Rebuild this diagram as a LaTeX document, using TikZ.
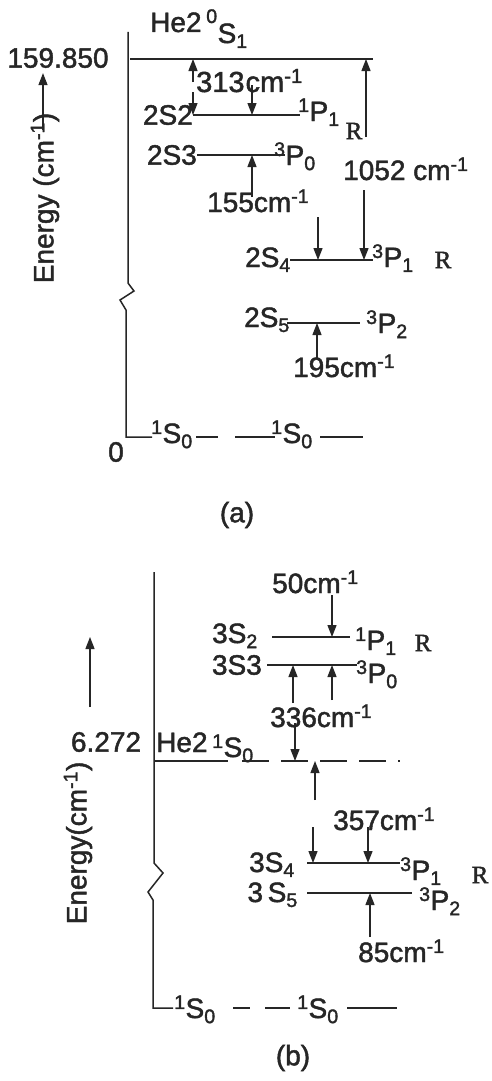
\documentclass[tikz,border=0pt]{standalone}
\usepackage{fontspec}
\setmainfont{Liberation Sans}[FakeBold=1.6]
\newfontfamily\serifR{Liberation Serif}[FakeBold=1.6]
\usetikzlibrary{arrows.meta}
\definecolor{cink}{HTML}{262626}
\newcommand{\trm}[3]{\textsuperscript{#1}#2\textsubscript{#3}}
\newcommand{\icm}{cm\textsuperscript{-1}}

\begin{document}
\begin{tikzpicture}[x=1pt,y=-1pt,every node/.style={font=\fontsize{28}{30}\selectfont,text=cink,inner sep=0pt},
  lvl/.style={draw=cink,line width=1.5pt},
  arr/.style={draw=cink,line width=1.3pt,-{Triangle[length=12pt,width=9pt]}},
  rlab/.style={font=\serifR\fontsize{25}{27}\selectfont}]
  \useasboundingbox[fill=white] (0,0) rectangle (491,1081);
  \foreach \n/\y/\xa/\xb in {aT/59/130/373,a2/115/193/300,a3/155/197/285,a4/260/290/373,a5/323/287/360,b2/637/272/350,b3/665/267/357,b4/863/307/400,b5/893/307/412}{\coordinate (\n L) at (\xa,\y); \coordinate (\n R) at (\xb,\y); \draw[lvl] (\n L) -- (\n R);}
  \coordinate (bHL) at (155,761); \coordinate (bHR) at (400,761);
  \draw[lvl] (bHL) -- ++(73,0);
  \draw[lvl,dash pattern=on 27pt off 12pt] (242,761) -- (bHR);
  \draw[lvl] (128,32) -- (128,283) -- (134,291) -- (120,300) -- (126,310) -- (126,437) -- (152,437);
  \draw[lvl] (196,437) -- (218,437) (235,437) -- (275,437) (320,437) -- (363,437);
  \draw[lvl] (154,572) -- (154,863) -- (163,873) -- (148,892) -- (153,900) -- (153,1008) -- (173,1008);
  \draw[lvl] (233,1008) -- (250,1008) (265,1008) -- (290,1008) (347,1008) -- (397,1008);
  \foreach \n/\x/\y/\t in {p1/193/82/aT,p2/193/92/a2,p3/252/85/a2,p4/366/137/aT,p5/364/190/a4,p6/252/197/a3,p7/318/217/a4,p8/317/358/a5,q1/332/595/b2,q2/293/703/b3,q3/332/700/b3,q4/295/723/bH,q5/315/800/bH,q6/313/827/b4,q7/368/827/b4,q8/370/937/b5}{\coordinate (\n S) at (\x,\y); \draw[arr] (\n S) -- (\n S |- \t L);}
  \node (val159) at (58,58) {159.850};
  \coordinate (e1S) at (43,130); \draw[arr] (e1S) -- (e1S |- val159.south) [shorten >=5pt];
  \node[rotate=90] (enA) at (45,198) {Energy (\icm)};
  \node[anchor=base west] (heA) at (150,32) {He2\,\textsuperscript{0}\raisebox{-11pt}{S\textsubscript{1}}};
  \node[anchor=base west,font=\fontsize{29}{31}\selectfont] (w313) at (196,92) {313\kern1pt\icm};
  \node[anchor=east] (s2A) at (a2L) {2S2};
  \node[anchor=base west] (p1A) at (298,121) {\trm{1}{P}{1}};
  \node[rlab] (rA1) at (354,131) {R};
  \node[anchor=east] (s3A) at (a3L) {2S3};
  \node[anchor=base west] (p0A) at (274,165) {\trm{3}{P}{0}};
  \node[anchor=base west] (w155) at (207,212) {155\icm};
  \node[anchor=base west] (w1052) at (343,180) {1052 \icm};
  \node[anchor=base east] (s4A) at (291,267) {2S\textsubscript{4}};
  \node[anchor=base west] (p3A) at (372,267) {\trm{3}{P}{1}};
  \node[rlab] (rA2) at (443,260) {R};
  \node[anchor=base east] (s5A) at (290,327) {2S\textsubscript{5}};
  \node[anchor=base west] (p2A) at (366,333) {\trm{3}{P}{2}};
  \node[anchor=base west] (w195) at (293,377) {195\icm};
  \node (zeroA) at (116,452) {0};
  \node[anchor=base west] (g1A) at (151,443) {\trm{1}{S}{0}};
  \node[anchor=base west] (g2A) at (271,443) {\trm{1}{S}{0}};
  \node (capA) at (237,515) {(a)};
  \node (val627) at (106,742) {6.272};
  \coordinate (e2S) at (90,707); \coordinate (e2T) at (90,637); \draw[arr] (e2S) -- (e2T);
  \node[rotate=90] (enB) at (78,843) {Energy(\icm)};
  \node[anchor=base west] (heB) at (156,752) {He2\,\raisebox{-5pt}{\trm{1}{S}{0}}};
  \node[anchor=base west] (w50) at (272,593) {50\icm};
  \node[anchor=base east] (s2B) at (258,643) {3S\textsubscript{2}};
  \node[anchor=base west] (p1B) at (355,650) {\trm{1}{P}{1}};
  \node[rlab] (rB1) at (423,643) {R};
  \node[anchor=east] (s3B) at (262,665) {3S3};
  \node[anchor=base west] (p0B) at (356,683) {\trm{3}{P}{0}};
  \node[anchor=base west] (w336) at (270,727) {336\icm};
  \node[anchor=base west] (w357) at (333,830) {357\icm};
  \node[anchor=base east] (s4B) at (295,872) {3S\textsubscript{4}};
  \node[anchor=base west] (p3B) at (400,880) {\trm{3}{P}{1}};
  \node[rlab] (rB2) at (480,875) {R};
  \node[anchor=base east] (s5B) at (298,902) {3\,S\textsubscript{5}};
  \node[anchor=base west] (p2B) at (419,910) {\trm{3}{P}{2}};
  \node[anchor=base west] (w85) at (358,962) {85\icm};
  \node[anchor=base west] (g1B) at (174,1018) {\trm{1}{S}{0}};
  \node[anchor=base west] (g2B) at (297,1018) {\trm{1}{S}{0}};
  \node (capB) at (293,1058) {(b)};
\end{tikzpicture}
\end{document}
